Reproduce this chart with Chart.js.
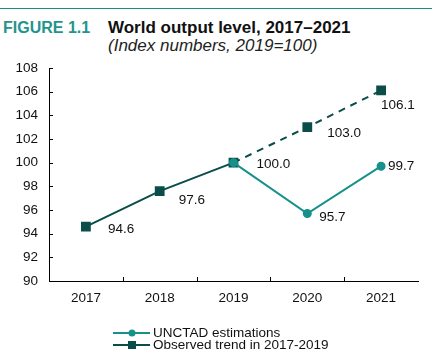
<!DOCTYPE html>
<html>
<head>
<meta charset="utf-8">
<script src="https://cdn.jsdelivr.net/npm/chart.js@4.4.1/dist/chart.umd.min.js"></script>
<style>
  body { margin: 0; background: #fff; font-family: "Liberation Sans", Arial, sans-serif; }
  #wrap { position: relative; width: 442px; height: 358px; }
  #rule { position: absolute; left: 0; top: 8px; width: 432px; height: 1px; background: #1c8c86; }
  #fig { position: absolute; left: 3px; top: 19px; font-size: 16px; font-weight: bold; color: #23948c; }
  #ttl { position: absolute; left: 108px; top: 18px; font-size: 17px; font-weight: bold; color: #111; }
  #sub { position: absolute; left: 108px; top: 36px; font-size: 17px; font-style: italic; color: #222; }
  canvas { position: absolute; left: 0; top: 0; }
</style>
</head>
<body>
<div id="wrap">
  <div id="rule"></div>
  <div id="fig">FIGURE 1.1</div>
  <div id="ttl">World output level, 2017–2021</div>
  <div id="sub">(Index numbers, 2019=100)</div>
  <canvas id="chart" width="442" height="358"></canvas>
</div>
<script>
// data
var years      = ["2017", "2018", "2019", "2020", "2021"];
var unctad     = [null, null, 100.0, 95.7, 99.7];
var trend      = [94.6, 97.6, 100.0, 103.0, 106.1];
var yTicks     = [90, 92, 94, 96, 98, 100, 102, 104, 106, 108];

var teal = "#17918a";
var dark = "#0b4d48";
var fontFam = "'Liberation Sans', Arial, sans-serif";

// label offsets (px) next to each point
var labelOffsets = {
    0: [null, null, null, [12, 4], [7, 0]],
    1: [[22, 3], [19, 9], [23, 2], [20, 6], [0, 15]]
};

var extras = {
    id: 'extras',
    afterDatasetsDraw: function(chart) {
        var ctx = chart.ctx;
        var area = chart.chartArea;
        var xs = chart.scales.x, ys = chart.scales.y;
        ctx.save();
        // inward tick marks
        ctx.strokeStyle = "#000";
        ctx.lineWidth = 1;
        ctx.beginPath();
        yTicks.forEach(function(v) {
            var py = Math.round(ys.getPixelForValue(v)) + 0.5;
            ctx.moveTo(area.left, py);
            ctx.lineTo(area.left + 4, py);
        });
        for (var i = 0; i < years.length - 1; i++) {
            var px = Math.round((xs.getPixelForValue(i) + xs.getPixelForValue(i + 1)) / 2) + 0.5;
            ctx.moveTo(px, area.bottom);
            ctx.lineTo(px, area.bottom - 4);
        }
        ctx.stroke();

        // value labels
        ctx.font = "13.5px " + fontFam;
        ctx.fillStyle = "#111";
        ctx.textAlign = "left";
        ctx.textBaseline = "middle";
        chart.data.datasets.forEach(function(ds, di) {
            var meta = chart.getDatasetMeta(di);
            meta.data.forEach(function(pt, i) {
                var v = ds.data[i];
                var off = labelOffsets[di][i];
                if (v === null || !off) return;
                ctx.fillText(v.toFixed(1), pt.x + off[0], pt.y + off[1]);
            });
        });

        // legend
        var items = [
            { text: "UNCTAD estimations", color: teal, style: "circle" },
            { text: "Observed trend in 2017-2019", color: dark, style: "rect" }
        ];
        items.forEach(function(it, k) {
            var ly = 333 + k * 12;
            ctx.strokeStyle = it.color;
            ctx.lineWidth = 2;
            ctx.beginPath();
            ctx.moveTo(113, ly);
            ctx.lineTo(150, ly);
            ctx.stroke();
            ctx.fillStyle = it.color;
            if (it.style === "circle") {
                ctx.beginPath();
                ctx.arc(132, ly, 3.5, 0, Math.PI * 2);
                ctx.fill();
            } else {
                ctx.fillRect(128, ly - 4, 8, 8);
            }
            ctx.fillStyle = "#111";
            ctx.fillText(it.text, 153, ly);
        });
        ctx.restore();
    }
};

new Chart(document.getElementById("chart"), {
    type: 'line',
    plugins: [extras],
    data: {
        labels: years,
        datasets: [{
            label: "UNCTAD estimations",
            data: unctad,
            borderColor: teal,
            backgroundColor: teal,
            borderWidth: 2,
            pointStyle: 'circle',
            pointRadius: 3.5,
            pointHoverRadius: 3.5,
            spanGaps: false
        }, {
            label: "Observed trend in 2017-2019",
            data: trend,
            borderColor: dark,
            backgroundColor: dark,
            borderWidth: 2,
            pointStyle: 'rect',
            pointRadius: 5.5,
            pointHoverRadius: 5.5,
            segment: {
                borderDash: function(c) { return c.p0DataIndex >= 2 ? [7, 6] : undefined; }
            }
        }]
    },
    options: {
        responsive: false,
        animation: false,
        maintainAspectRatio: false,
        layout: { padding: { left: 0, top: 68, right: 24, bottom: 47 } },
        plugins: { legend: { display: false }, tooltip: { enabled: false } },
        scales: {
            x: {
                offset: true,
                grid: { display: false, drawTicks: false, offset: true },
                border: { display: true, color: "#000", width: 1 },
                ticks: { color: "#111", padding: 9, font: { family: fontFam, size: 13.5 } },
                afterFit: function(s) { s.height = 30; }
            },
            y: {
                min: 90,
                max: 108,
                grid: { display: false, drawTicks: false },
                border: { display: true, color: "#000", width: 1 },
                afterBuildTicks: function(s) { s.ticks = yTicks.map(function(v) { return { value: v }; }); },
                ticks: { color: "#111", padding: 11, font: { family: fontFam, size: 13.5 } },
                afterFit: function(s) { s.width = 49; }
            }
        }
    }
});
</script>
</body>
</html>
